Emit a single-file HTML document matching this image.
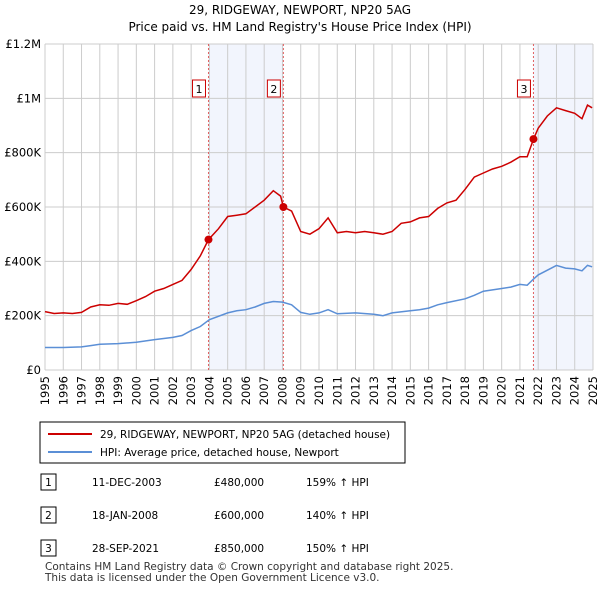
<!DOCTYPE html>
<html><head><meta charset="utf-8"><style>
body{margin:0;background:#fff;font-family:"DejaVu Sans",sans-serif;}
svg text{font-family:"DejaVu Sans",sans-serif;}
</style></head><body>
<svg width="600" height="590" viewBox="0 0 600 590">
<text x="300" y="14" text-anchor="middle" font-size="12">29, RIDGEWAY, NEWPORT, NP20 5AG</text>
<text x="300" y="31" text-anchor="middle" font-size="12">Price paid vs. HM Land Registry's House Price Index (HPI)</text>
<g id="plot"></g>
<g>
<rect x="40" y="422" width="365" height="41" fill="#fff" stroke="#000" stroke-width="1"/>
<line x1="48" y1="434" x2="92" y2="434" stroke="#cc0000" stroke-width="2"/>
<text x="100" y="438" font-size="10.5">29, RIDGEWAY, NEWPORT, NP20 5AG (detached house)</text>
<line x1="48" y1="452" x2="92" y2="452" stroke="#5b8fd6" stroke-width="2"/>
<text x="100" y="456" font-size="10.5">HPI: Average price, detached house, Newport</text>
</g>
<g font-size="10.5">
<rect x="41" y="474" width="15" height="16" fill="#fff" stroke="#000"/><text x="48.5" y="486" text-anchor="middle">1</text>
<text x="92" y="486">11-DEC-2003</text><text x="214" y="486">£480,000</text><text x="306" y="486">159% ↑ HPI</text>
<rect x="41" y="507" width="15" height="16" fill="#fff" stroke="#000"/><text x="48.5" y="519" text-anchor="middle">2</text>
<text x="92" y="519">18-JAN-2008</text><text x="214" y="519">£600,000</text><text x="306" y="519">140% ↑ HPI</text>
<rect x="41" y="540" width="15" height="16" fill="#fff" stroke="#000"/><text x="48.5" y="552" text-anchor="middle">3</text>
<text x="92" y="552">28-SEP-2021</text><text x="214" y="552">£850,000</text><text x="306" y="552">150% ↑ HPI</text>
</g>
<text x="45" y="570" font-size="10.5" fill="#333">Contains HM Land Registry data © Crown copyright and database right 2025.</text>
<text x="45" y="581" font-size="10.5" fill="#333">This data is licensed under the Open Government Licence v3.0.</text>
</svg>
<script>
const redT=[1995,1995.5,1996,1996.5,1997,1997.5,1998,1998.5,1999,1999.5,2000,2000.5,2001,2001.5,2002,2002.5,2003,2003.5,2003.95,2004.5,2005,2005.5,2006,2006.5,2007,2007.5,2007.9,2008.05,2008.5,2009,2009.5,2010,2010.5,2011,2011.5,2012,2012.5,2013,2013.5,2014,2014.5,2015,2015.5,2016,2016.5,2017,2017.5,2018,2018.5,2019,2019.5,2020,2020.5,2021,2021.4,2021.74,2022,2022.5,2023,2023.5,2024,2024.4,2024.7,2024.95];
const redV=[215,208,210,208,212,232,240,238,245,242,255,270,290,300,315,330,370,420,480,520,565,570,575,600,625,660,640,600,585,510,500,520,560,505,510,505,510,505,500,510,540,545,560,565,595,615,625,665,710,725,740,750,765,785,785,850,890,935,965,955,945,925,975,965];
const hpiT=[1995,1996,1997,1997.5,1998,1999,2000,2001,2002,2002.5,2003,2003.5,2004,2005,2005.5,2006,2006.5,2007,2007.5,2008,2008.5,2009,2009.5,2010,2010.5,2011,2012,2013,2013.5,2014,2015,2015.5,2016,2016.5,2017,2018,2018.5,2019,2020,2020.5,2021,2021.4,2021.74,2022,2023,2023.5,2024,2024.4,2024.7,2024.95];
const hpiV=[83,83,85,90,95,97,102,112,120,127,145,160,185,210,218,222,232,245,252,250,240,212,205,210,222,207,210,205,200,210,218,222,228,240,248,262,275,290,300,305,315,312,335,350,385,375,372,365,385,380];
const saleT=[2003.95,2008.05,2021.74];
const saleV=[480,600,850];
const saleLbl=["1","2","3"];
const yTicks=[0,200,400,600,800,1000,1200];
const yLbls=["£0","£200K","£400K","£600K","£800K","£1M","£1.2M"];
const years=[1995,1996,1997,1998,1999,2000,2001,2002,2003,2004,2005,2006,2007,2008,2009,2010,2011,2012,2013,2014,2015,2016,2017,2018,2019,2020,2021,2022,2023,2024,2025];
const X0=45,X1=593,Y0=370,Y1=44;
const xs=t=>X0+(t-1995)/30*(X1-X0);
const ys=v=>Y0-v/1200*(Y0-Y1);
const NS="http://www.w3.org/2000/svg";
const g=document.getElementById('plot');
function mk(tag,a){const e=document.createElementNS(NS,tag);for(const k in a)e.setAttribute(k,a[k]);g.appendChild(e);return e;}
let r=mk('rect',{x:xs(saleT[0]),y:Y1,width:xs(saleT[1])-xs(saleT[0]),height:Y0-Y1,fill:'#f2f5fd'});


r=mk('rect',{x:xs(saleT[2]),y:Y1,width:X1-xs(saleT[2]),height:Y0-Y1,fill:'#f2f5fd'});


years.forEach(y=>{const l=mk('line',{x1:xs(y),x2:xs(y),y1:Y1,y2:Y0,stroke:'#ccc','stroke-width':1});


const t=mk('text',{x:0,y:0,'font-size':11.5,'text-anchor':'end',transform:`translate(${xs(y)+4},${Y0+6}) rotate(-90)`});t.textContent=y;

});
yTicks.forEach((v,i)=>{const l=mk('line',{x1:X0,x2:X1,y1:ys(v),y2:ys(v),stroke:'#ccc','stroke-width':1});


const t=mk('text',{x:X0-4,y:ys(v)+4,'font-size':11.5,'text-anchor':'end'});t.textContent=yLbls[i];

});
saleT.forEach((t,i)=>{const l=mk('line',{x1:xs(t),x2:xs(t),y1:Y1,y2:Y0,stroke:'#e06060','stroke-width':1,'stroke-dasharray':'2,2'});


const b=mk('rect',{x:xs(t)-16,y:80,width:13,height:17,fill:'#fff',stroke:'#cc0000'});


const tx=mk('text',{x:xs(t)-9.5,y:93,'font-size':11,'text-anchor':'middle'});tx.textContent=saleLbl[i];

});
const pts=(T,V)=>T.map((t,i)=>xs(t).toFixed(1)+','+ys(V[i]).toFixed(1)).join(' ');
let p=mk('polyline',{points:pts(hpiT,hpiV),fill:'none',stroke:'#5b8fd6','stroke-width':1.5});


p=mk('polyline',{points:pts(redT,redV),fill:'none',stroke:'#cc0000','stroke-width':1.5});


saleT.forEach((t,i)=>{const c=mk('circle',{cx:xs(t),cy:ys(saleV[i]),r:4,fill:'#cc0000'});

});
</script>
</body></html>
